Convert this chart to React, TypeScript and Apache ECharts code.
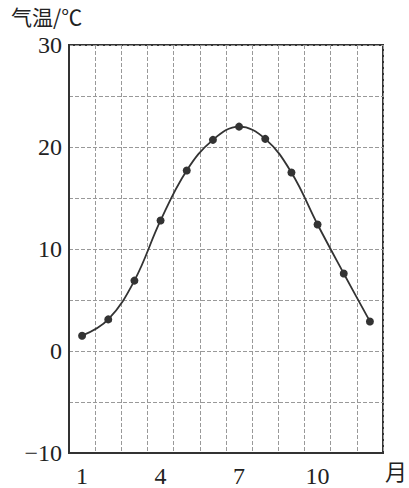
import React, { useEffect, useRef } from "react";
import * as echarts from "echarts";

const months = ["1", "2", "3", "4", "5", "6", "7", "8", "9", "10", "11", "12"];
const temps = [1.5, 3.1, 6.9, 12.8, 17.7, 20.7, 22.0, 20.8, 17.5, 12.4, 7.6, 2.9];
const shownMonthIdx = [0, 3, 6, 9];
const yMin = -10;
const yMax = 30;
const yStep = 5;
const yLabelStep = 10;
const yTitle = "气温/℃";
const xTitle = "月";

export default function App() {
  const ref = useRef<HTMLDivElement>(null);
  useEffect(() => {
    if (!ref.current) return;
    const chart = echarts.init(ref.current, null, { renderer: "svg" });
    const serif = "'Liberation Serif', 'DejaVu Serif', serif";
    const cjk = "'Noto Sans CJK SC', sans-serif";
    chart.setOption({
      animation: false,
      backgroundColor: "#fff",
      grid: {
        left: 69,
        top: 45,
        width: 314,
        height: 408,
        show: true,
        borderColor: "#333",
        borderWidth: 2,
        containLabel: false,
      },
      graphic: [
        {
          type: "text",
          left: 11,
          top: 5,
          style: {
            text: yTitle,
            font: `400 21px ${cjk}`,
            lineHeight: 21,
            fill: "#222",
          },
        },
        {
          type: "text",
          left: 385,
          top: 459,
          style: {
            text: xTitle,
            font: `400 22px ${cjk}`,
            lineHeight: 22,
            fill: "#222",
          },
        },
      ],
      xAxis: {
        type: "category",
        data: months,
        boundaryGap: true,
        axisLine: { show: true, onZero: false, lineStyle: { color: "#333", width: 2 } },
        axisTick: { show: false },
        axisLabel: {
          interval: (i: number) => shownMonthIdx.includes(i),
          color: "#222",
          fontFamily: serif,
          fontSize: 24,
          margin: 11,
        },
        splitLine: {
          show: true,
          interval: 0,
          lineStyle: { color: "#999", type: [4, 2], width: 1 },
        },
      },
      yAxis: {
        type: "value",
        min: yMin,
        max: yMax,
        interval: yStep,
        axisLine: { show: true, lineStyle: { color: "#333", width: 2 } },
        axisTick: { show: false },
        axisLabel: {
          formatter: (v: number) =>
            v % yLabelStep === 0 ? String(v).replace("-", "−") : "",
          color: "#222",
          fontFamily: serif,
          fontSize: 24,
          lineHeight: 24,
          margin: 7,
        },
        splitLine: {
          show: true,
          lineStyle: { color: "#999", type: [4, 2], width: 1 },
        },
      },
      series: [
        {
          type: "line",
          data: temps,
          smooth: 0.4,
          symbol: "circle",
          symbolSize: 8,
          itemStyle: { color: "#333" },
          lineStyle: { color: "#333", width: 1.8 },
        },
      ],
    });
    return () => chart.dispose();
  }, []);
  return (
    <div
      ref={ref}
      style={{ position: "absolute", left: 0, top: 0, width: 409, height: 488 }}
    />
  );
}
